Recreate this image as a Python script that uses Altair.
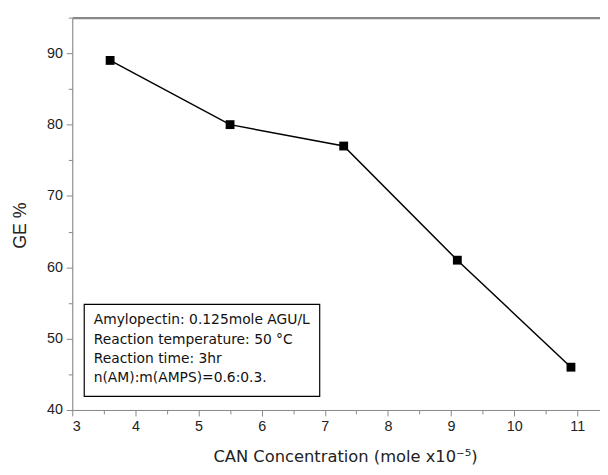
import altair as alt
import pandas as pd

can = [3.6, 5.5, 7.3, 9.1, 10.9]
ge = [89, 80, 77, 61, 46]
x_major = [3, 4, 5, 6, 7, 8, 9, 10, 11]
x_minor = [3.5, 4.5, 5.5, 6.5, 7.5, 8.5, 9.5, 10.5]
y_major = [40, 50, 60, 70, 80, 90]
y_minor = [45, 55, 65, 75, 85, 95]
info_lines = ["Amylopectin: 0.125mole AGU/L", "Reaction temperature: 50 \u00b0C",
              "Reaction time: 3hr", "n(AM):m(AMPS)=0.6:0.3."]
info_y = [52.6, 49.8, 47.1, 44.5]
box_x = [3.19, 6.92]
box_y = [41.9, 54.8]

FONT = "Liberation Sans"
WIDE = "DejaVu Sans"
xdom = [3, 11.36]
ydom = [40, 95]

df = pd.DataFrame({"can": can, "ge": ge})
xs = alt.Scale(domain=xdom, nice=False, zero=False)
ys = alt.Scale(domain=ydom, nice=False, zero=False)

line = alt.Chart(df).mark_line(color="black", strokeWidth=1.5).encode(
    x=alt.X("can:Q", scale=xs,
            axis=alt.Axis(values=x_major, tickSize=6, labelPadding=4, grid=False,
                          orient="bottom", labelFontSize=14.5, labelFont=FONT,
                          labelColor="#222",
                          title="CAN Concentration (mole x10\u207b\u2075)",
                          titleFontSize=16.5, titleX=276, titleY=47,
                          titleAlign="center", titleBaseline="middle", titleFont=WIDE,
                          titleFontWeight="normal", titleColor="#222")),
    y=alt.Y("ge:Q", scale=ys,
            axis=alt.Axis(values=y_major, tickSize=6, labelPadding=4, grid=False,
                          orient="left", labelFontSize=14.5, labelFont=FONT,
                          labelColor="#222",
                          title="GE %", titleFontSize=18, titleX=-52, titleY=210,
                          titleAlign="center", titleBaseline="middle",
                          titleFont=FONT, titleFontWeight="normal", titleColor="#222")),
)
pts = alt.Chart(df).mark_square(color="black", size=80, opacity=1).encode(
    x=alt.X("can:Q", scale=xs, axis=None), y=alt.Y("ge:Q", scale=ys, axis=None))

minor = alt.Chart(df).mark_point(opacity=0).encode(
    x=alt.X("can:Q", scale=xs,
            axis=alt.Axis(values=x_minor, tickSize=4, labels=False, domain=False,
                          grid=False, title=None, orient="bottom")),
    y=alt.Y("ge:Q", scale=ys,
            axis=alt.Axis(values=y_minor, tickSize=4, labels=False, domain=False,
                          grid=False, title=None, orient="left")),
)
top = alt.Chart(df).mark_point(opacity=0).encode(
    x=alt.X("can:Q", scale=xs,
            axis=alt.Axis(orient="top", ticks=False, labels=False, grid=False,
                          title=None, domainWidth=2.5)),
    y=alt.Y("ge:Q", scale=ys, axis=None),
)

box_df = pd.DataFrame({"x1": [box_x[0]], "x2": [box_x[1]], "y1": [box_y[0]], "y2": [box_y[1]]})
box = alt.Chart(box_df).mark_rect(fill="white", stroke="black", strokeWidth=1.2).encode(
    x=alt.X("x1:Q", scale=xs, axis=None), x2="x2:Q",
    y=alt.Y("y1:Q", scale=ys, axis=None), y2="y2:Q")

info_df = pd.DataFrame({"t": info_lines, "y": info_y, "x": [3.34] * 4})
info = alt.Chart(info_df).mark_text(align="left", baseline="middle", font=WIDE,
                                    fontSize=14, color="#111").encode(
    x=alt.X("x:Q", scale=xs, axis=None), y=alt.Y("y:Q", scale=ys, axis=None), text="t:N")

chart = alt.layer(line, pts, minor, top, box, info).resolve_axis(
    x="independent", y="independent"
).properties(
    width=534, height=397,
    autosize=alt.AutoSizeParams(type="none"),
    padding={"left": 65, "top": 7, "right": 0, "bottom": 60},
).configure_view(stroke=None).configure_axis(
    domainColor="black", domainWidth=2, tickColor="black", tickWidth=1.5,
).configure(background="white")

chart.save("out.html", embed_options={"renderer": "svg", "actions": False})
